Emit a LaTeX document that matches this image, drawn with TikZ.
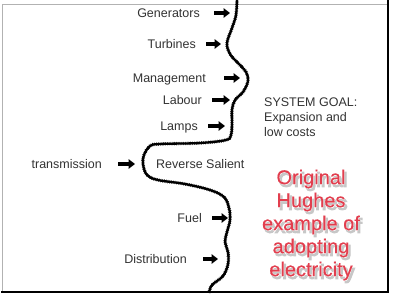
\documentclass[tikz,border=0pt]{standalone}
\usepackage{fontspec}
\setmainfont{Liberation Sans}
\usepackage{tikz}
\usetikzlibrary{arrows.meta}
\definecolor{labelgrey}{RGB}{50,50,50}
\definecolor{hughesred}{RGB}{226,62,78}
\newcommand{\hughesnote}{Original\\Hughes\\example of\\adopting\\electricity}

\begin{document}
\begin{tikzpicture}[
    x=1pt, y=-1pt,
    >=Stealth,
    lbl/.style={font=\fontsize{12.5}{15}\selectfont, text=labelgrey, inner sep=0pt, text height=9pt, text depth=0pt},
    push/.style={line width=3.2pt, -{Triangle[length=6.5pt, width=9.5pt]}},
    wall/.style={line width=2.3pt, line join=round},
    wallrough/.style={line width=3.4pt, dash pattern=on 0.5pt off 1.3pt},
    note/.style={font=\fontsize{20}{23}\selectfont, align=center, inner sep=0pt}
]
    \useasboundingbox (0,0) rectangle (394,303);

    % frame
    \draw[gray!60, line width=0.8pt] (2,4) rectangle (388,292);
    \draw[line width=2.6pt] (388,0) -- (388,292) -- (1,292);

    % the uneven front of the system
    \foreach \s in {wall, wallrough} {
    \draw[\s] plot[smooth, tension=0.6] coordinates {
        (237,-1) (236,15) (232,28) (227,43) (230,54) (238,63) (246,72) (248,81)
        (243,92) (235,100) (232,110) (232,123) (231,135) (226,140) (200,143)
        (160,144) (150,146) (144,155) (143,164) (147,175) (158,180) (185,184)
        (210,190) (224,197) (229,208) (230,220) (227,232) (225,242) (228,252)
        (228,264) (223,276) (212,285) (209,293)};
    }

    % components pushing on the front
    \foreach \n/\txt/\tx/\y/\gap/\hx in {gen/Generators/200/13/14/230,
        turb/Turbines/196/44/10/221, mgmt/Management/206/78/18/240,
        lab/Labour/202/100/10/230, lamp/Lamps/198/126/10/225,
        trans/transmission/102/164/16/135, fuel/Fuel/202/218/10/228,
        dist/Distribution/187/259/16/218} {
        \node[lbl, anchor=east] (\n) at (\tx,\y) {\txt};
        \coordinate (\n-tip) at (\hx,\y);
        \draw[push, shorten <=\gap pt] (\n) -- (\n-tip);
    }

    \node[lbl, anchor=west] (salient) at (156,164) {Reverse Salient};
    \node[font=\fontsize{12.5}{15}\selectfont, text=labelgrey, inner sep=0pt, anchor=north west, align=left] (goal) at (264,98)
        {SYSTEM GOAL:\\Expansion and\\low costs};

    % red caption with shadow and white halo
    \node[note, text=black!22, font=\fontsize{20}{23}\selectfont\addfontfeature{FakeBold=6}] (shade) at (313,227.5) {\hughesnote};
    \node[note, text=white, font=\fontsize{20}{23}\selectfont\addfontfeature{FakeBold=3.5}] (halo) at (311,225) {\hughesnote};
    \node[note, text=hughesred, font=\fontsize{20}{23}\selectfont\addfontfeature{FakeBold=0.4}] (hughes) at (311,225) {\hughesnote};
\end{tikzpicture}
\end{document}
